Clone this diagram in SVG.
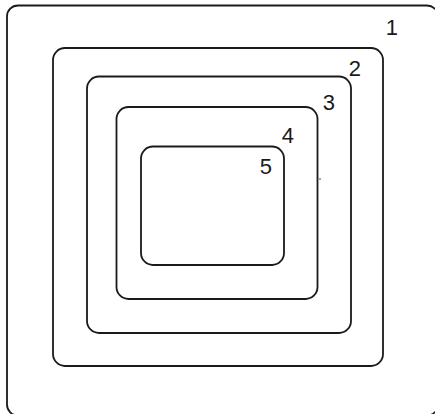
<svg xmlns="http://www.w3.org/2000/svg" width="435" height="414" viewBox="0 0 435 414">
<style>
.r{fill:none;stroke:#1a1a1a;stroke-width:1.8}
.t{font-family:"Liberation Sans",Arial,sans-serif;font-size:22px;fill:#1a1a1a;text-anchor:end}
</style>
<rect width="435" height="414" fill="#fff"/>
<g id="n1"><rect class="r" x="7" y="5.5" width="431" height="410" rx="11"/><text class="t" x="398" y="35">1</text></g>
<g id="n2"><rect class="r" x="53" y="48" width="330" height="318" rx="12"/><text class="t" x="361" y="76">2</text></g>
<g id="n3"><rect class="r" x="87" y="76.5" width="264" height="256.5" rx="12"/><text class="t" x="335" y="110">3</text></g>
<g id="n4"><rect class="r" x="116.5" y="107" width="201" height="192" rx="12"/><text class="t" x="294" y="143">4</text></g>
<g id="n5"><rect class="r" x="141" y="146.5" width="143" height="118.5" rx="12"/><text class="t" x="272" y="174">5</text></g>
<circle cx="320" cy="179" r="0.8" fill="#333"/>
</svg>
